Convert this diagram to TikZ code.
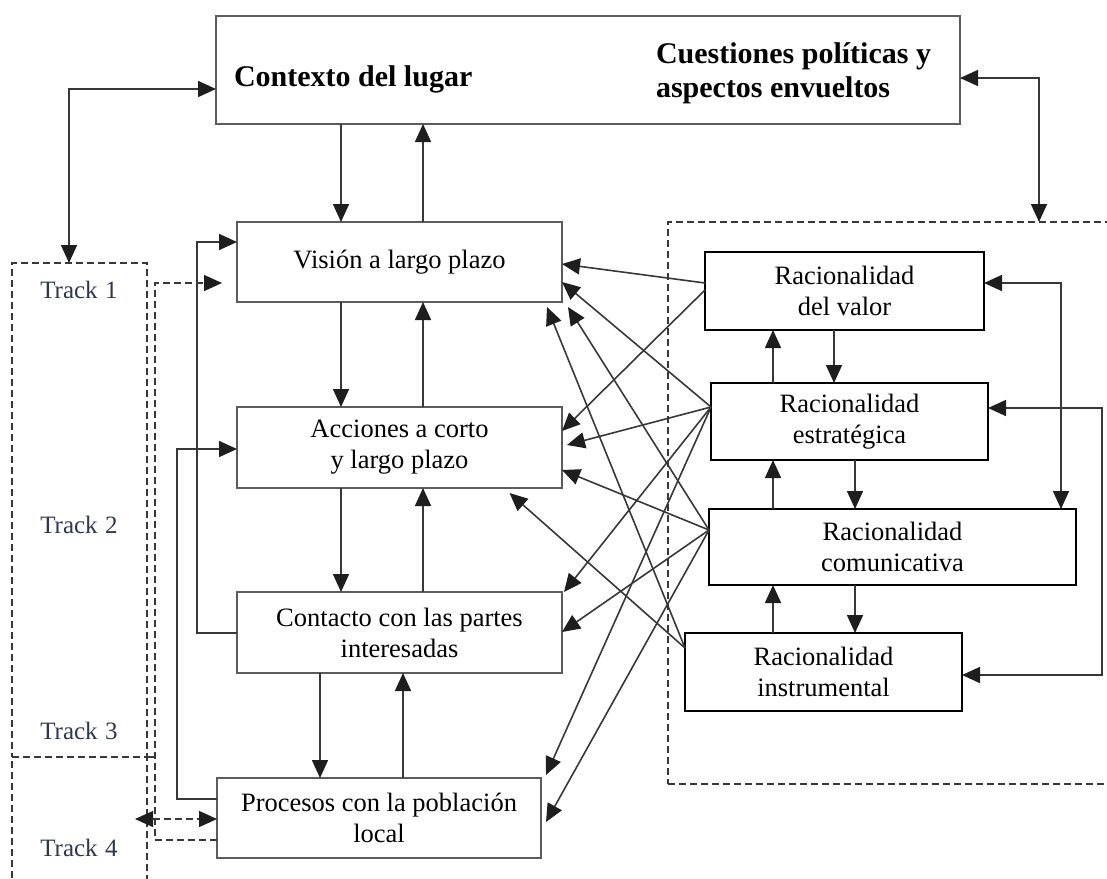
\documentclass[tikz,border=0pt]{standalone}
\usepackage{fontspec}
\setmainfont{Liberation Serif}
\usetikzlibrary{arrows.meta,calc}
\definecolor{linegray}{HTML}{383838}
\definecolor{boxgray}{HTML}{5C5C5C}
\definecolor{tipfill}{HTML}{1E1E1E}
\definecolor{tracktext}{RGB}{45,55,78}
\begin{document}
\begin{tikzpicture}[x=1pt,y=-1pt,
  every node/.style={inner sep=0pt, outer sep=0pt},
  txt/.style={font=\fontsize{26.5}{31}\selectfont},
  bold/.style={font=\bfseries\fontsize{30}{35}\selectfont},
  lbox/.style={draw=boxgray, line width=1.9pt, fill=white, align=center, txt},
  rbox/.style={draw=black, line width=1.7pt, fill=white, align=center, txt},
  conn/.style={draw=linegray, line width=1.6pt},
  tip/.tip={Triangle[length=18pt,width=16pt,fill=tipfill,color=tipfill]},
  arr/.style={conn, -tip},
  arrs/.style={conn, tip-tip},
  dashline/.style={draw=linegray, line width=1.4pt, dash pattern=on 7pt off 4pt},
  dashbox/.style={draw=linegray, line width=1.4pt, dash pattern=on 7pt off 4pt},
  tracklabel/.style={text=tracktext, font=\fontsize{25}{29}\selectfont}
]
\useasboundingbox (0,0) rectangle (1107,878);

% dashed frames
\node[dashbox, minimum width=135pt, minimum height=494pt] (trackA) at (79.5,510) {};
\node[dashbox, minimum width=135pt, minimum height=133pt] (trackB) at (79.5,823.5) {};
\node[dashbox, minimum width=447pt, minimum height=562pt] (frame) at (891.5,503) {};
\draw[dashbox] (trackB.north east) -- ++(8,0);

% track labels
\node[tracklabel, anchor=base] (t1) at (79,298) {Track\hspace{0.3em}1};
\node[tracklabel, anchor=base] (t2) at (79,533) {Track\hspace{0.3em}2};
\node[tracklabel, anchor=base] (t3) at (79,739) {Track\hspace{0.3em}3};
\node[tracklabel, anchor=base] (t4) at (79,856) {Track\hspace{0.3em}4};

% top context box
\node[lbox, minimum width=744pt, minimum height=108pt] (ctx) at (588,70) {};
\node[bold, anchor=base west] (ctxA) at (234,86) {Contexto del lugar};
\node[bold, anchor=base west] (ctxB) at (656,63) {Cuestiones políticas y};
\node[bold, anchor=base west] (ctxC) at (656,97) {aspectos envueltos};

% left column
\node[lbox, minimum width=325pt, minimum height=80pt] (vision) at (399.5,262) {Visión a largo plazo};
\node[lbox, minimum width=325pt, minimum height=81pt] (acciones) at (399.5,447.5) {Acciones a corto\\y largo plazo};
\node[lbox, minimum width=325pt, minimum height=81pt] (contacto) at (399.5,632.5) {Contacto con las partes\\interesadas};
\node[lbox, minimum width=324pt, minimum height=80pt] (procesos) at (379,818) {Procesos con la población\\local};

% right column
\node[rbox, minimum width=279pt, minimum height=78pt] (valor) at (844.5,291) {Racionalidad\\del valor};
\node[rbox, minimum width=277pt, minimum height=77pt] (estr) at (849.5,421.5) {Racionalidad\\estratégica};
\node[rbox, minimum width=367pt, minimum height=76pt] (com) at (892.5,547) {Racionalidad\\comunicativa};
\node[rbox, minimum width=277pt, minimum height=78pt] (instr) at (823.5,672) {Racionalidad\\instrumental};

% links to the context box
\draw[arrs] (trackA.north -| 69,0) |- (ctx.west |- 0,89);
\draw[arrs] (ctx.east |- 0,78) -| (frame.north -| 1039,0);
\draw[arr] (ctx.south -| 341,0) -- (vision.north -| 341,0);
\draw[arr] (vision.north -| 423,0) -- (ctx.south -| 423,0);

% left column chain
\draw[arr] (vision.south -| 341,0) -- (acciones.north -| 341,0);
\draw[arr] (acciones.north -| 423,0) -- (vision.south -| 423,0);
\draw[arr] (acciones.south -| 341,0) -- (contacto.north -| 341,0);
\draw[arr] (contacto.north -| 423,0) -- (acciones.south -| 423,0);
\draw[arr] (contacto.south -| 320,0) -- (procesos.north -| 320,0);
\draw[arr] (procesos.north -| 403,0) -- (contacto.south -| 403,0);

% feedback loops on the left
\draw[arr] (contacto.west |- 0,633) -| (197,242) -- (vision.west |- 0,242);
\draw[arr] (procesos.west |- 0,799) -| (177,449) -- (acciones.west |- 0,449);
\coordinate (visionIn) at ($(vision.west |- 0,283)+(-15,0)$);
\draw[dashline, -tip] (procesos.west |- 0,840) -| (155,283) -- (visionIn);
\coordinate (trackOut) at (135,819);
\draw[dashline, tip-tip] (trackOut) -- (procesos.west |- 0,819);

% right column chain
\draw[arr] (estr.north -| 773,0) -- (valor.south -| 773,0);
\draw[arr] (valor.south -| 834,0) -- (estr.north -| 834,0);
\draw[arr] (com.north -| 773,0) -- (estr.south -| 773,0);
\draw[arr] (estr.south -| 855,0) -- (com.north -| 855,0);
\draw[arr] (instr.north -| 773,0) -- (com.south -| 773,0);
\draw[arr] (com.south -| 855,0) -- (instr.north -| 855,0);
\draw[arrs] (valor.east |- 0,283) -| (com.north -| 1061,0);
\draw[arrs] (estr.east |- 0,408) -| (1102,675) -- (instr.east |- 0,675);

% rationalities feeding the tracks
\coordinate (vA) at (valor.west |- 0,283);
\coordinate (vB) at (valor.west |- 0,290);
\coordinate (eS) at (estr.west |- 0,407);
\coordinate (cS) at (com.west |- 0,530);
\coordinate (iS) at (instr.west |- 0,648);

\draw[arr] (vA) -- (vision.east |- 0,264);
\draw[arr] (vB) -- (acciones.east |- 0,431);
\draw[arr] (eS) -- (vision.east |- 0,282);
\draw[arr] (eS) -- ($(acciones.east |- 0,445)+(5,0)$);
\draw[arr] (eS) -- ($(contacto.north east)+(2,0)$);
\draw[arr] (eS) -- ($(procesos.north east)+(5,-3)$);
\draw[arr] (cS) -- ($(vision.south east)+(6,5)$);
\draw[arr] (cS) -- (acciones.east |- 0,470);
\draw[arr] (cS) -- (contacto.east |- 0,632);
\draw[arr] (cS) -- ($(procesos.east |- 0,822)+(5,0)$);
\draw[arr] (iS) -- ($(vision.south east)+(-15,5)$);
\draw[arr] (iS) -- ($(acciones.south)+(110,5)$);
\end{tikzpicture}
\end{document}
